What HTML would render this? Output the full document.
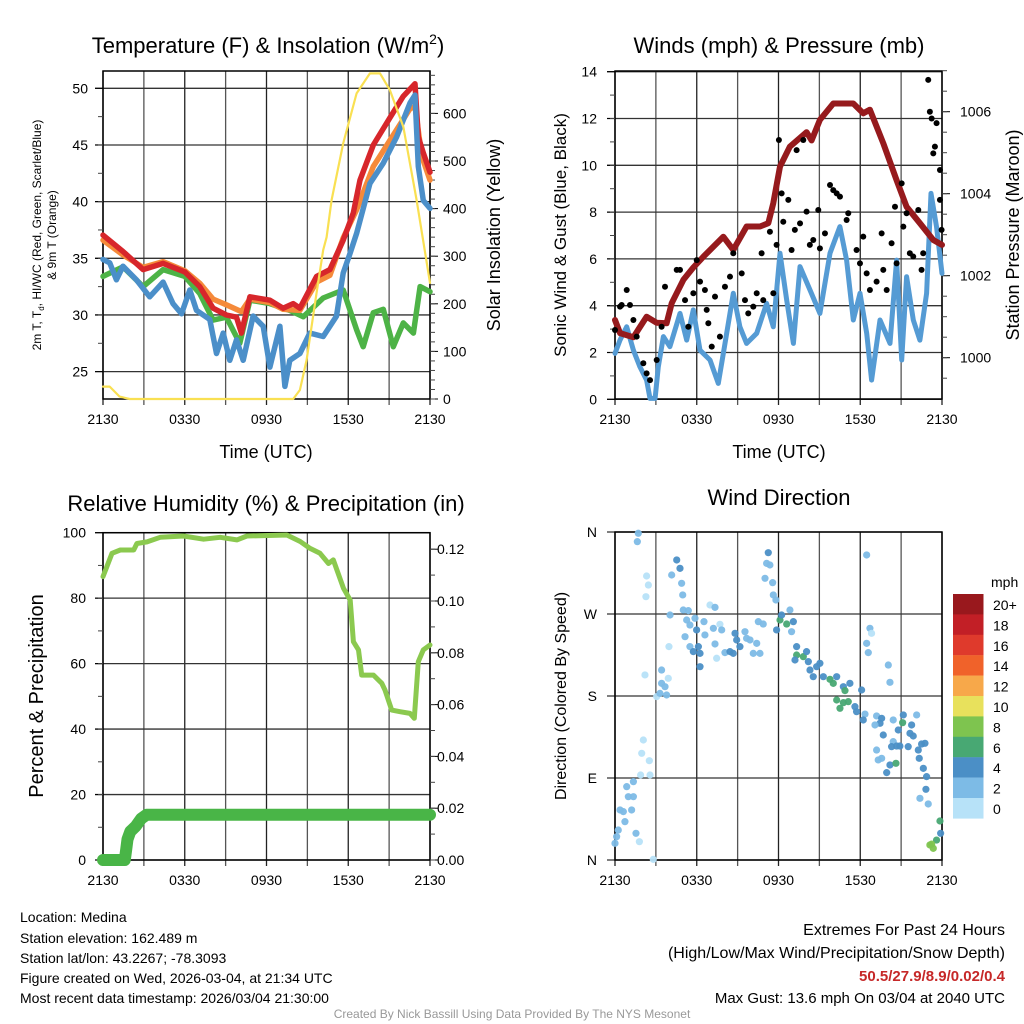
<!DOCTYPE html>
<html><head><meta charset="utf-8"><style>
html,body{margin:0;padding:0;background:#fff;}
svg{display:block;font-family:"Liberation Sans",Arial,sans-serif;}
</style></head><body>
<svg id="root" width="1024" height="1024" viewBox="0 0 1024 1024">
<text x="268" y="53" font-size="22" text-anchor="middle">Temperature (F) &amp; Insolation (W/m<tspan font-size="14" dy="-9">2</tspan><tspan dy="9">)</tspan></text>
<text x="779" y="53" font-size="22" text-anchor="middle">Winds (mph) &amp; Pressure (mb)</text>
<text x="266" y="511" font-size="22" text-anchor="middle">Relative Humidity (%) &amp; Precipitation (in)</text>
<text x="779" y="505" font-size="22" text-anchor="middle">Wind Direction</text>
<text x="266" y="458" font-size="18" text-anchor="middle">Time (UTC)</text>
<text x="779" y="458" font-size="18" text-anchor="middle">Time (UTC)</text>
<text transform="translate(41,235) rotate(-90)" font-size="12" text-anchor="middle">2m T, T<tspan font-size="8" dy="3">d</tspan><tspan dy="-3">, HI/WC (Red, Green, Scarlet/Blue)</tspan></text>
<text transform="translate(56,235) rotate(-90)" font-size="12" text-anchor="middle">&amp; 9m T (Orange)</text>
<text transform="translate(500,235) rotate(-90)" font-size="18" text-anchor="middle">Solar Insolation (Yellow)</text>
<text transform="translate(566,235) rotate(-90)" font-size="17" text-anchor="middle">Sonic Wind &amp; Gust (Blue, Black)</text>
<text transform="translate(1019,235) rotate(-90)" font-size="18" text-anchor="middle">Station Pressure (Maroon)</text>
<text transform="translate(43,696) rotate(-90)" font-size="20" text-anchor="middle">Percent &amp; Precipitation</text>
<text transform="translate(566,696) rotate(-90)" font-size="16" text-anchor="middle">Direction (Colored By Speed)</text>
<text x="991" y="587" font-size="14" text-anchor="start">mph</text>
<g font-size="14">
<text x="20" y="922">Location: Medina</text>
<text x="20" y="943">Station elevation: 162.489 m</text>
<text x="20" y="963">Station lat/lon: 43.2267; -78.3093</text>
<text x="20" y="983">Figure created on Wed, 2026-03-04, at 21:34 UTC</text>
<text x="20" y="1003">Most recent data timestamp: 2026/03/04 21:30:00</text>
</g>
<g text-anchor="end">
<text x="1005" y="935" font-size="16">Extremes For Past 24 Hours</text>
<text x="1005" y="958" font-size="16">(High/Low/Max Wind/Precipitation/Snow Depth)</text>
<text x="1005" y="981" font-size="15" font-weight="bold" fill="#c62828">50.5/27.9/8.9/0.02/0.4</text>
<text x="1005" y="1003" font-size="15">Max Gust: 13.6 mph On 03/04 at 2040 UTC</text>
</g>
<text x="512" y="1018" font-size="12" fill="#999" text-anchor="middle">Created By Nick Bassill Using Data Provided By The NYS Mesonet</text>
</svg>
<script>
// ---- Temperature panel data ----
const redH=[0,1.47,2.94,4.41,6.0,7.1,8.08,9.06,9.8,10.16,10.78,12.25,13.22,13.96,14.45,15.68,16.65,17.63,18.37,18.86,19.84,21.06,22.04,22.9,23.14,23.51,24];
const redT=[37.05,35.6,34.0,34.55,33.8,32.5,30.6,30.0,29.8,28.4,31.6,31.3,30.6,31.0,30.6,33.4,34.0,36.6,39.0,41.9,45.0,47.4,49.3,50.4,45.7,44.3,42.6];
const orgH=[0,1.47,2.94,4.41,6.0,7.1,8.08,9.06,10.16,10.78,12.25,13.22,14.45,15.68,16.65,17.63,18.62,19.84,21.06,22.53,22.9,23.4,24];
const orgT=[36.6,35.3,34.2,34.7,33.9,32.8,31.4,30.9,30.3,31.4,31.1,30.5,30.4,32.9,33.5,36.8,39.3,43.1,45.4,48.2,48.4,44.0,41.9];
const grnH=[0,1.47,2.94,4.41,6.0,7.1,8.08,9.06,10.04,10.78,12.25,13.71,14.7,16.16,17.63,18.61,19.1,19.84,20.57,21.31,22.04,22.78,23.27,24];
const grnT=[33.4,34.25,32.5,34.0,33.4,31.9,29.55,29.8,27.5,31.3,31.0,30.4,29.85,31.5,32.2,28.7,27.2,30.2,30.5,27.2,29.3,28.4,32.5,32.05];
const bluH=[0,0.49,0.98,1.47,2.45,3.43,4.41,5.14,5.76,6.37,6.86,7.84,8.33,8.82,9.31,9.8,10.29,11.02,11.76,12.25,12.98,13.35,13.71,14.45,15.18,16.16,16.65,17.14,17.63,18.12,18.61,19.59,20.57,21.55,22.53,22.9,23.14,23.51,24];
const bluT=[34.9,34.6,33.1,34.3,33.1,31.6,32.9,31.0,30.1,32.2,30.4,29.6,26.6,28.4,26.0,27.8,26.0,29.9,29.0,25.4,29.0,23.7,26.0,26.6,28.4,28.1,29.0,29.9,33.7,35.4,37.2,41.6,43.4,45.7,48.7,49.4,43.1,40.1,39.4];
const solH=[0,0.49,1.22,1.96,6,10,13.96,14.45,14.94,15.67,16.16,16.41,16.78,17.63,18.61,19.59,20.33,21.06,22.04,23.02,24];
const solW=[26,26,5,0,0,0,0,19,82,222,313,340,418,537,642,684,684,649,572,418,244];
const tempTicks=[25,30,35,40,45,50];
const solarTicks=[0,100,200,300,400,500,600];
const timeLabels=["2130","0330","0930","1530","2130"];
// ---- Winds panel data ----
const presH=[0,0.37,1.35,2.32,3.06,3.79,4.16,5.02,5.75,6.48,7.95,8.68,9.66,10.64,11.25,11.62,12.11,12.84,14.06,14.43,15.04,16.02,17.49,18.22,18.71,19.69,20.67,21.4,22.38,23.36,24];
const presMb=[1000.92,1000.6,1000.5,1001.0,1000.85,1000.84,1001.33,1001.9,1002.2,1002.46,1002.95,1002.63,1003.2,1003.2,1003.28,1003.77,1004.66,1005.15,1005.5,1005.3,1005.8,1006.2,1006.2,1005.96,1006.05,1005.23,1004.33,1003.68,1003.28,1002.87,1002.75];
const windH=[0,0.37,0.86,1.35,1.83,2.32,2.57,2.94,3.18,3.55,4.03,4.77,5.26,5.75,6.24,6.97,7.58,8.07,8.68,9.17,9.66,10.4,11.13,11.62,12.11,12.6,13.09,13.58,14.31,15.04,15.78,16.51,17.0,17.49,17.98,18.47,18.83,19.45,20.18,20.67,21.04,21.4,21.89,22.38,22.87,23.19,23.6,24];
const windMph=[1.96,2.53,3.1,2.1,1.39,0.82,0.04,0.04,1.39,2.68,2.25,3.67,2.53,3.82,2.1,1.68,0.68,2.39,4.53,3.1,2.39,2.82,4.1,3.1,6.24,4.24,2.39,5.67,4.67,3.67,6.24,7.38,5.95,3.39,4.53,2.82,0.82,3.39,2.39,5.95,1.68,5.24,3.39,2.53,4.53,8.8,7.38,5.38];
const gustH=[0,0.37,0.49,0.86,1.1,1.35,1.59,2.08,2.32,2.57,3.06,3.42,3.67,4.53,4.77,5.14,5.38,5.75,6.0,6.24,6.6,6.73,6.85,7.1,7.34,7.7,8.07,8.44,8.68,9.3,9.54,9.78,10.15,10.4,10.76,10.88,11.37,11.62,11.86,12.03,12.23,12.35,12.72,12.96,13.2,13.33,13.58,13.82,14.06,14.3,14.55,14.92,15.04,15.41,15.78,16.02,16.27,16.51,17.0,17.12,17.73,17.98,18.22,18.47,18.71,19.2,19.57,19.69,19.94,20.3,20.55,20.67,21.04,21.16,21.4,21.64,21.89,22.26,22.5,22.62,22.99,23.11,23.24,23.36,23.48,23.6,23.85,23.85,23.97];
const gustMph=[2.96,3.96,4.03,4.67,4.03,3.39,2.68,1.54,1.11,0.82,1.68,3.1,4.81,5.53,5.53,4.24,3.1,4.53,5.95,5.03,4.67,3.82,3.25,2.25,4.39,2.68,4.81,5.24,6.24,5.38,4.24,3.67,3.96,4.53,6.24,4.24,7.16,4.53,6.6,11.08,8.8,7.59,8.52,6.38,7.24,10.65,7.52,11.08,8.02,6.6,6.81,8.09,6.45,7.09,9.16,8.94,8.8,8.66,7.66,7.95,6.38,5.81,6.95,5.38,4.67,5.03,7.09,5.53,4.67,6.67,8.23,5.81,9.23,7.38,7.95,6.24,6.1,8.09,5.53,6.24,13.65,12.29,12.0,10.51,10.8,11.8,9.8,8.52,7.24];
const windTicks=[0,2,4,6,8,10,12,14];
const presTicks=[1000,1002,1004,1006];
// ---- Humidity panel data ----
const rhH=[0,0.66,1.27,2.25,2.49,3.23,4.2,5.91,7.38,8.6,9.83,10.56,13.5,14.47,15.2,15.93,16.55,16.9,17.65,18.14,18.38,18.75,18.99,19.85,20.46,20.7,21.19,21.8,22.53,22.85,23.14,23.51,24];
const rhPct=[86.6,93.7,94.7,94.7,96.7,97.2,98.6,99.0,98.0,98.6,97.8,99.0,99.3,97.3,95.2,93.7,90.6,91.7,83.0,79.4,66.7,64.2,56.5,56.5,54.0,51.9,45.8,45.3,44.8,43.3,60.6,64.2,65.7];
const pcpH=[0,1.6,1.7,1.8,2.0,2.4,2.8,3.2,24];
const pcpIn=[0,0,0.004,0.008,0.011,0.013,0.016,0.0175,0.0175];
const rhTicks=[0,20,40,60,80,100];
const pcpTicks=[0,0.02,0.04,0.06,0.08,0.10,0.12];
const pcpLabels=["0.00","0.02","0.04","0.06","0.08","0.10","0.12"];
// ---- Wind direction data ----
const dirH=[0,0.12,0.24,0.73,0.61,1.22,0.37,0.86,1.35,0.98,
1.35,1.54,1.79,1.88,2.57,1.96,2.08,2.52,2.81,1.71,
1.64,2.32,2.45,2.27,2.2,3.06,3.3,3.42,3.67,3.79,
3.42,3.91,4.04,3.96,4.16,4.53,4.77,4.89,4.97,5.01,
5.38,5.26,5.5,5.87,5.99,5.14,5.5,5.75,6.12,6.24,
6.24,6.6,6.53,6.97,7.34,7.22,7.34,7.46,7.7,7.83,
8.07,8.44,8.68,8.81,8.93,9.17,9.54,9.66,9.91,10.15,
10.4,10.64,10.52,10.88,11.01,11.13,11.25,11.37,11.57,11.62,
11.81,11.86,12.11,12.23,12.6,12.84,12.96,13.09,13.33,13.33,
13.82,14.06,13.21,14.19,14.31,14.55,14.8,15.04,15.29,15.78,
16.02,16.27,16.76,16.88,17.24,16.27,16.76,17.12,16.51,17.61,
17.73,18.1,18.35,18.22,18.47,18.71,18.83,18.47,18.59,19.2,
19.57,19.45,19.08,19.69,20.06,20.18,20.42,20.42,20.3,20.67,
20.91,20.79,21.16,21.11,21.52,21.65,21.77,21.89,22.14,22.26,
22.5,22.75,22.33,22.63,22.87,22.82,22.38,22.99,23.85,23.9,
23.6,23.24,23.36,23.11,19.2,19.32,19.94,20.18,20.62,19.57];
const dirDeg=[18.3,25.6,32.9,42.1,53.1,54.9,54.9,80.5,86.0,69.5,
69.5,29.3,20.1,93.3,93.3,117.1,131.7,109.0,0.7,358.6,
349.4,311.7,301.8,289.0,203.1,179.3,182.9,193.9,190.2,181.1,
208.5,199.4,268.9,234.2,312.8,329.3,320.1,303.7,290.9,274.4,
273.7,263.4,257.9,265.3,252.5,245.1,234.2,228.7,234.2,226.8,
212.2,247.0,261.6,279.9,277.3,254.3,237.1,221.4,258.7,252.5,
227.6,228.7,226.8,248.8,241.5,234.2,250.6,243.3,241.5,226.8,
237.8,226.8,261.6,259.0,309.2,325.6,337.3,323.8,304.4,290.9,
285.4,252.5,263.4,268.9,259.0,274.4,250.6,261.6,234.2,225.0,
223.2,228.7,219.5,217.7,208.5,201.2,212.2,215.9,201.2,198.3,
193.9,201.2,190.2,185.9,193.9,175.6,172.7,173.8,166.5,168.3,
162.8,186.6,160.2,153.7,334.8,254.3,248.8,237.8,227.6,158.1,
155.5,150.0,148.2,137.2,214.0,195.0,153.7,129.9,124.4,125.1,
125.1,142.7,159.2,150.7,124.4,139.0,148.2,136.1,159.2,120.7,
127.3,128.1,111.6,100.6,91.5,77.6,67.7,61.5,42.8,29.3,
21.9,17.5,12.8,16.5,120.7,109.8,95.9,104.3,106.1,111.6];
const dirMph=[2,3,3,3,3,3,3,3,3,3,
3,3,1,1,1,1,1,1,1,2,
2,1,1,1,1,1,2,2,2,2,
3,1,2,1,2,4,4,3,3,3,
3,3,3,3,4,3,3,4,4,4,
4,3,3,1,3,3,3,1,1,3,
3,4,4,4,4,4,3,3,3,3,
3,3,3,3,3,3,4,3,3,3,
3,4,6,4,6,3,3,4,4,6,
6,4,4,4,4,4,4,4,4,6,
6,4,4,6,4,6,6,6,6,4,
4,4,3,4,3,3,1,3,3,3,
4,4,3,4,3,3,3,3,4,4,
4,4,4,6,4,4,4,4,3,4,
4,4,4,4,4,4,3,3,6,4,
6,8,8,8,3,3,4,4,6,3];
const dirTicks=[0,90,180,270,360];
const dirLabels=["N","E","S","W","N"];
const cbLabels=["20+","18","16","14","12","10","8","6","4","2","0"];
const cbColors=["#99181d","#c21f26","#df3a2c","#f0622a","#f7a84a","#e8e15c","#7ec44f","#48a873","#4b8fc6","#7dbbe6","#b7e2f8"];

const NS="http://www.w3.org/2000/svg";
const root=document.getElementById('root');
function mk(tag,attrs,parent){const e=document.createElementNS(NS,tag);for(const k in attrs)e.setAttribute(k,attrs[k]);(parent||root).appendChild(e);return e;}
function txt(x,y,s,anchor,size,parent){const t=mk('text',{x:x,y:y,'font-size':size,'text-anchor':anchor},parent);t.textContent=s;return t;}

const P=[
 {name:'temperature',x0:103,x1:430,y0:71,y1:399},
 {name:'winds',x0:615,x1:942,y0:71,y1:399},
 {name:'humidity',x0:103,x1:430,y0:532.7,y1:860},
 {name:'direction',x0:615,x1:942,y0:532,y1:860}
];
function xs(p,h){return p.x0+h*(p.x1-p.x0)/24;}
const yT=v=>88.3+(50-v)*11.333;
const yS=v=>399-v*0.476;
const yW=v=>399.3-v*23.4;
const yP=v=>357.7-(v-1000)*41;
const yRH=v=>860-v*3.273;
const yPc=v=>860-v*2590;
const yD=v=>860-v*0.9111;

function frame(p,hLines,yfn){
 const g=mk('g',{});
 
 
 for(let i=0;i<=8;i++){const x=p.x0+i*(p.x1-p.x0)/8;
  const l=mk('line',{x1:x,x2:x,y1:p.y0,y2:p.y1+6,stroke:i%2?'#555':'#222','stroke-width':1.3},g);
  
  }
 hLines.forEach(v=>{const y=yfn(v);const l=mk('line',{x1:p.x0-8,x2:p.x1,y1:y,y2:y,stroke:'#333','stroke-width':1.3},g);
  
  });
 const r=mk('rect',{x:p.x0,y:p.y0,width:p.x1-p.x0,height:p.y1-p.y0,fill:'none',stroke:'#000','stroke-width':1.5},g);
 
 
 const xl=mk('g',{},g);
 
 
 timeLabels.forEach((s,i)=>txt(xs(p,i*6),p.y1+25,s,'middle',14,xl));
 return g;
}
function leftTicks(p,major,minorStep,yfn,labels,lx){
 const g=mk('g',{});
 
 
 major.forEach((v,i)=>{const y=yfn(v);mk('line',{x1:p.x0-8,x2:p.x0,y1:y,y2:y,stroke:'#000'},g);txt(lx,y+5,labels[i],'end',14,g);});
 if(minorStep){for(let v=major[0]+minorStep;v<major[major.length-1];v+=minorStep){const y=yfn(v);mk('line',{x1:p.x0-5,x2:p.x0,y1:y,y2:y,stroke:'#444'},g);}}
}
function rightTicks(p,major,minorStep,lo,hi,yfn,labels,lx){
 const g=mk('g',{});
 
 
 major.forEach((v,i)=>{const y=yfn(v);mk('line',{x1:p.x1,x2:p.x1+8,y1:y,y2:y,stroke:'#000'},g);txt(lx,y+5,labels[i],'start',14,g);});
 for(let v=lo;v<=hi+1e-9;v+=minorStep){const y=yfn(v);if(y<p.y0-0.5||y>p.y1+0.5)continue;mk('line',{x1:p.x1,x2:p.x1+5,y1:y,y2:y,stroke:'#444'},g);}
}
function line(p,H,V,yfn,color,w,name){
 const d=H.map((h,i)=>(i?'L':'M')+xs(p,h).toFixed(1)+','+yfn(V[i]).toFixed(1)).join('');
 const e=mk('path',{d:d,fill:'none',stroke:color,'stroke-width':w,'stroke-linejoin':'round','stroke-linecap':'round'});
 
 
 return e;
}

// Panel 1
let p=P[0];
frame(p,tempTicks,yT);
leftTicks(p,tempTicks,2.5,yT,tempTicks.map(String),88);
rightTicks(p,solarTicks,20,0,680,yS,solarTicks.map(String),443);
line(p,grnH,grnT,yT,'#4db346',5.5,'dewpoint-line');
line(p,orgH,orgT,yT,'#f58a3a',5.5,'temp-9m-line');
line(p,redH,redT,yT,'#d7262b',5.5,'temp-2m-line');
line(p,bluH,bluT,yT,'#4b8fc9',5.5,'heat-index-windchill-line');
line(p,solH,solW,yS,'#f9e052',2.2,'solar-insolation-line');

// Panel 2
p=P[1];
frame(p,windTicks,yW);
leftTicks(p,windTicks,1,yW,windTicks.map(String),597);
rightTicks(p,presTicks,0.5,999.5,1007,yP,presTicks.map(String),960);
line(p,windH,windMph,yW,'#559bd4',5,'sonic-wind-line');
line(p,presH,presMb,yP,'#961a1d',6,'pressure-line');
const gg=mk('g',{});


gustH.forEach((h,i)=>{const c=mk('circle',{cx:xs(p,h),cy:yW(gustMph[i]),r:3,fill:'#000'},gg);
 
 });

// Panel 3
p=P[2];
frame(p,rhTicks,yRH);
leftTicks(p,rhTicks,10,yRH,rhTicks.map(String),86);
rightTicks(p,pcpTicks,0.01,0,0.125,yPc,pcpLabels,437);
line(p,pcpH,pcpIn,yPc,'#49b547',12,'precipitation-line');
line(p,rhH,rhPct,yRH,'#8bc94f',5,'relative-humidity-line');

// Panel 4
p=P[3];
frame(p,dirTicks,yD);
const lg=mk('g',{});


dirTicks.forEach((v,i)=>{const y=yD(v);txt(597,y+5,dirLabels[i],'end',14,lg);});
const dg=mk('g',{});


dirH.forEach((h,i)=>{const b=Math.max(0,Math.min(10,Math.floor((dirMph[i]||0)/2)));
 const c=mk('circle',{cx:xs(p,h),cy:yD(dirDeg[i]),r:3.6,fill:cbColors[10-b],opacity:0.95},dg);
 
 });
const cb=mk('g',{});


cbColors.forEach((c,i)=>{const y=594+i*20.4;const r=mk('rect',{x:953,y:y,width:30.5,height:20.6,fill:c},cb);
 
 
 txt(993,y+16,cbLabels[i],'start',14,cb);});
</script>
</body></html>
